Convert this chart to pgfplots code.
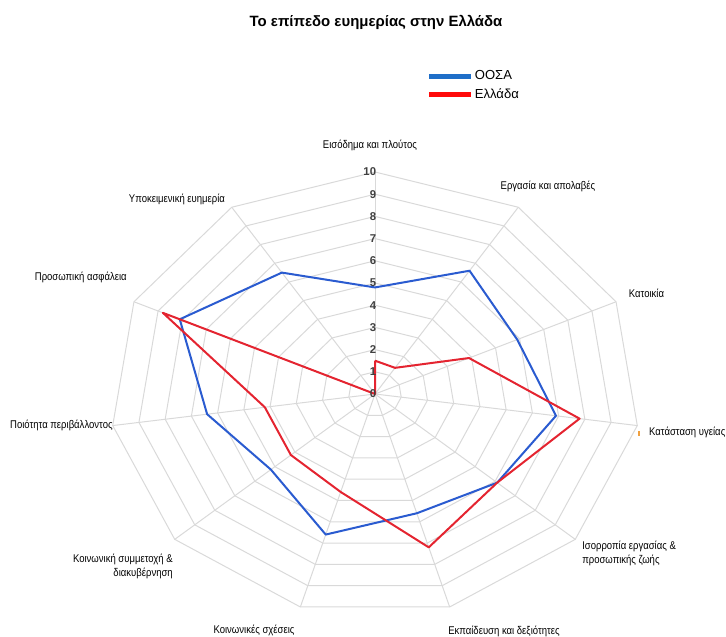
\documentclass[border=0pt]{standalone}
\usepackage{pgfplots}
\pgfplotsset{compat=1.18}
\usepackage{pgfplotstable}
\usepackage{fontspec}
\setmainfont{Liberation Sans}
\newfontfamily\narrowfont[FakeStretch=0.85]{Liberation Sans}
\definecolor{gridc}{HTML}{D9D9D9}
\definecolor{oecdblue}{HTML}{2A5BD0}
\definecolor{grred}{HTML}{E42430}
\definecolor{legblue}{HTML}{1F6FC8}
\definecolor{legred}{HTML}{FF0A0A}
\definecolor{tickc}{HTML}{404040}
\definecolor{orangemark}{HTML}{F0A040}

\pgfplotstableread{
a blue red
90 4.8 1.5
57.2727 6.6 1.4
24.5455 5.9 3.9
-8.1818 6.9 7.8
-40.9091 6.1 6.1
-73.6364 5.6 7.2
-106.3636 6.6 4.6
-139.0909 5.2 4.2
-171.8182 6.4 4.2
-204.5455 8.1 8.8
-237.2727 6.5 0
-270 4.8 1.5
}\data

\begin{document}
\begin{tikzpicture}
\begin{axis}[
  scale only axis, width=544.5pt, height=477.75pt,
  xmin=-14.151, xmax=13.245, ymin=-10.946, ymax=17.748,
  hide axis, clip=false,
  legend style={at={(rel axis cs:0.588,0.889)}, anchor=north west, draw=none, fill=none,
    font=\fontsize{9.8}{12}\selectfont, row sep=5.2pt, column sep=1.5pt, inner sep=0pt, outer sep=0pt,
    nodes={inner sep=0pt}},
  legend cell align=left,
  legend image code/.code={\draw[#1, line width=3.5pt] (0pt,0pt) -- (31pt,0pt);},
]
% grid rings
\pgfplotsinvokeforeach{1,...,10}{
  \addplot[gridc, line width=0.75pt, data cs=polar, forget plot] table[x=a, y expr=#1]{\data};
}
% spokes
\pgfplotsinvokeforeach{90,57.2727,24.5455,-8.1818,-40.9091,-73.6364,-106.3636,-139.0909,-171.8182,-204.5455,-237.2727}{
  \addplot[gridc, line width=0.75pt, data cs=polar, forget plot] coordinates {(#1,0) (#1,10)};
}
% data
\addplot[oecdblue, line width=1.5pt, line join=round, data cs=polar, forget plot] table[x=a, y=blue]{\data};
\addplot[grred, line width=1.5pt, line join=round, data cs=polar, forget plot] table[x=a, y=red]{\data};
\addlegendimage{legblue}\addlegendentry{ΟΟΣΑ}
\addlegendimage{legred}\addlegendentry{Ελλάδα}
% radial tick labels
\pgfplotsinvokeforeach{0,...,10}{
  \node[anchor=east, inner sep=0pt, text=tickc, font=\fontsize{8.5}{10}\selectfont\bfseries] at (axis cs:0.05,#1) {#1};
}
% title
\node[font=\fontsize{11.2}{13}\selectfont\bfseries] at (rel axis cs:0.5179,0.9655) {Το επίπεδο ευημερίας στην Ελλάδα};
% category labels
\begin{scope}[every node/.style={font=\narrowfont\fontsize{8.4}{10.5}\selectfont, inner sep=0pt}]
\node at (rel axis cs:0.5096,0.7724) {Εισόδημα και πλούτος};
\node at (rel axis cs:0.7548,0.7080) {Εργασία και απολαβές};
\node at (rel axis cs:0.8905,0.5400) {Κατοικία};
\node[anchor=west] at (rel axis cs:0.8939,0.3218) {Κατάσταση υγείας};
\node[anchor=west, align=left] at (rel axis cs:0.8017,0.1319) {Ισορροπία εργασίας \&\\προσωπικής  ζωής};
\node at (rel axis cs:0.6942,0.0094) {Εκπαίδευση και δεξιότητες};
\node at (rel axis cs:0.3499,0.0110) {Κοινωνικές σχέσεις};
\node[anchor=east, align=right] at (rel axis cs:0.2383,0.1115) {Κοινωνική συμμετοχή \&\\διακυβέρνηση};
\node[anchor=east] at (rel axis cs:0.1556,0.3328) {Ποιότητα περιβάλλοντος};
\node[anchor=east] at (rel axis cs:0.1749,0.5651) {Προσωπική ασφάλεια};
\node at (rel axis cs:0.2438,0.6876) {Υποκειμενική ευημερία};
\end{scope}
\draw[orangemark, line width=0.8pt] (rel axis cs:0.8802,0.3234) -- (rel axis cs:0.8802,0.3155);
\coordinate (bl) at (rel axis cs:0,0);
\coordinate (tr) at (rel axis cs:1,1);
\end{axis}
\pgfresetboundingbox
\path[use as bounding box] (bl) rectangle (tr);
\end{tikzpicture}
\end{document}
